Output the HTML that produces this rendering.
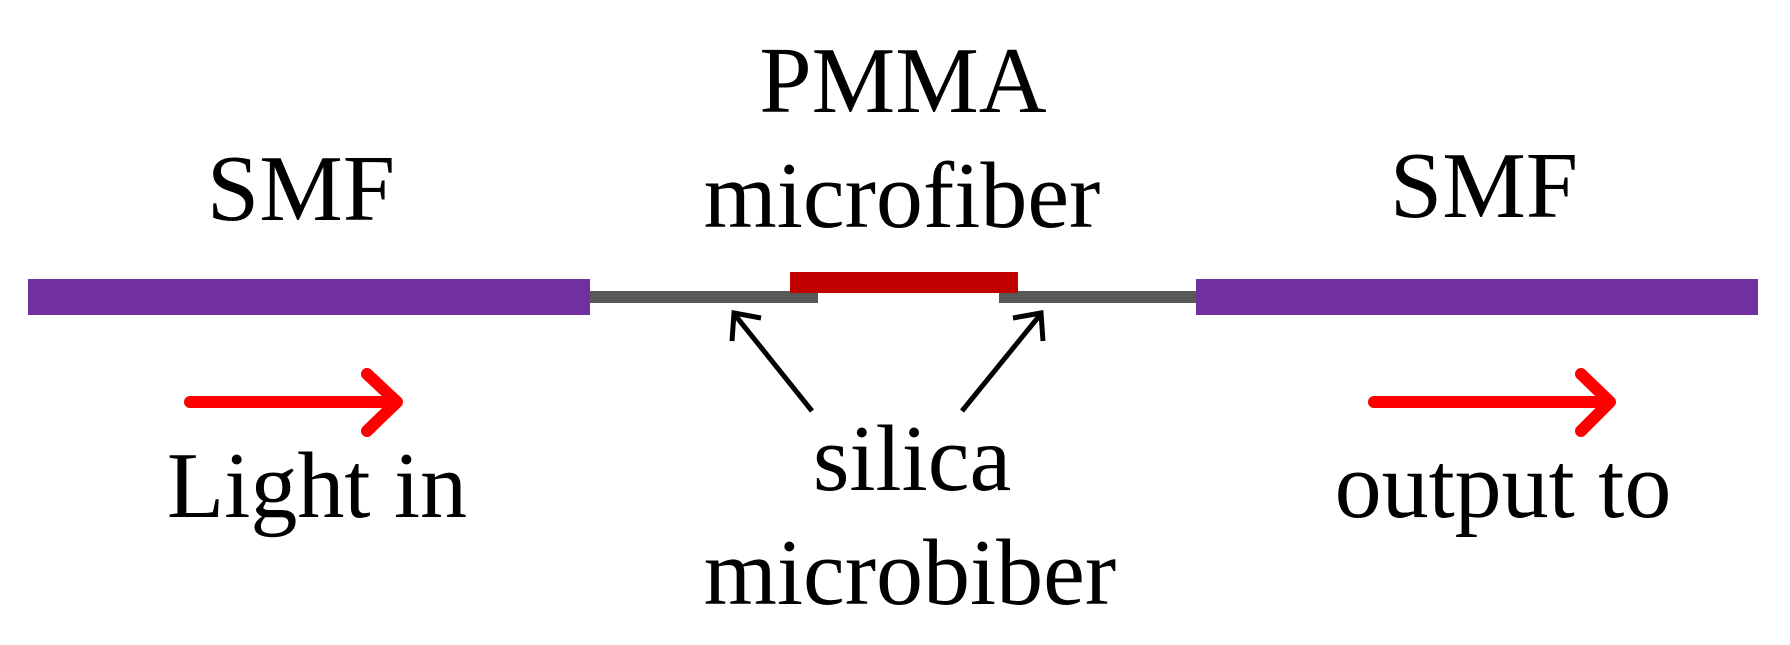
<!DOCTYPE html>
<html><head><meta charset="utf-8"><style>
html,body{margin:0;padding:0;background:#fff;}
svg{display:block;}
text{font-family:"Liberation Serif","Times New Roman",serif;font-size:94px;fill:#000;}
</style></head><body>
<svg width="1790" height="645" viewBox="0 0 1790 645" xmlns="http://www.w3.org/2000/svg">
<rect x="0" y="0" width="1790" height="645" fill="#fff"/>
<!-- gray silica -->
<rect x="588" y="291" width="230" height="12" fill="#595959"/>
<rect x="999" y="291" width="199" height="12" fill="#595959"/>
<!-- red PMMA -->
<rect x="790" y="272" width="228" height="21" fill="#c00000"/>
<!-- purple SMF -->
<rect x="28" y="279" width="562" height="36" fill="#7030a0"/>
<rect x="1196" y="279" width="562" height="36" fill="#7030a0"/>
<!-- red arrows -->
<g stroke="#ff0000" stroke-width="12" stroke-linecap="round" stroke-linejoin="round" fill="none">
<line x1="190" y1="402" x2="396" y2="402"/>
<polyline points="367,374 397,402 367,431"/>
<line x1="1374" y1="402" x2="1609" y2="402"/>
<polyline points="1581,374 1610,402 1581,431"/>
</g>
<!-- black arrows -->
<g stroke="#000" stroke-width="5" fill="none">
<line x1="812" y1="411" x2="735" y2="315"/>
<polyline points="732,341 734,313 761,318"/>
<line x1="962" y1="411" x2="1040" y2="315"/>
<polyline points="1043,341 1041,313 1013,318"/>
</g>
<text x="301" y="220" text-anchor="middle">SMF</text>
<text x="1484" y="217" text-anchor="middle">SMF</text>
<text x="903" y="112" text-anchor="middle">PMMA</text>
<text x="902" y="227" text-anchor="middle">microfiber</text>
<text x="912" y="490" text-anchor="middle">silica</text>
<text x="910" y="604" text-anchor="middle">microbiber</text>
<text x="317" y="517" text-anchor="middle">Light in</text>
<text x="1503" y="517" text-anchor="middle">output to</text>
</svg>
</body></html>
